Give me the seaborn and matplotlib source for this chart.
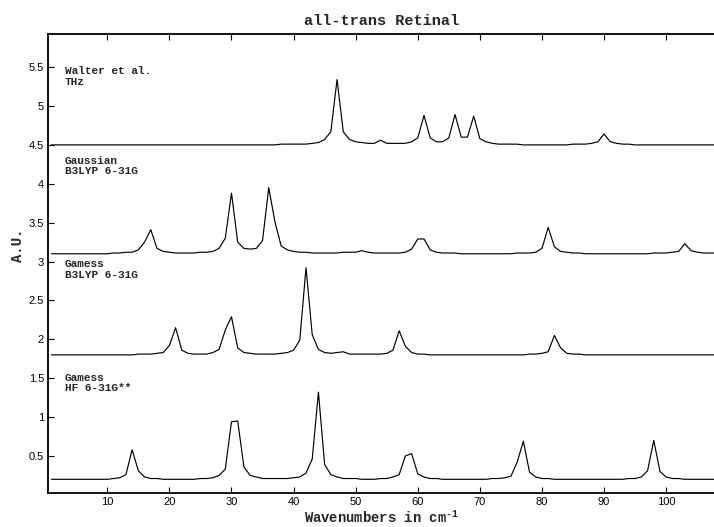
import matplotlib
matplotlib.use("Agg")
import matplotlib.pyplot as plt
import pandas as pd
import seaborn as sns

# ---------------- data ----------------
wavenumbers = list(range(1, 109))

walter_thz = [
    4.50, 4.50, 4.50, 4.50, 4.50, 4.50, 4.50, 4.50, 4.50, 4.50,
    4.50, 4.50, 4.50, 4.50, 4.50, 4.50, 4.50, 4.50, 4.50, 4.50,
    4.50, 4.50, 4.50, 4.50, 4.50, 4.50, 4.50, 4.50, 4.50, 4.50,
    4.50, 4.50, 4.50, 4.50, 4.50, 4.50, 4.50, 4.51, 4.51, 4.51,
    4.51, 4.51, 4.52, 4.53, 4.57, 4.67, 5.34, 4.67, 4.57, 4.54,
    4.53, 4.52, 4.52, 4.56, 4.52, 4.52, 4.52, 4.52, 4.54, 4.59,
    4.88, 4.59, 4.54, 4.54, 4.59, 4.89, 4.60, 4.60, 4.87, 4.58,
    4.54, 4.52, 4.51, 4.51, 4.51, 4.51, 4.50, 4.50, 4.50, 4.50,
    4.50, 4.50, 4.50, 4.50, 4.51, 4.51, 4.51, 4.52, 4.54, 4.64,
    4.54, 4.52, 4.51, 4.51, 4.50, 4.50, 4.50, 4.50, 4.50, 4.50,
    4.50, 4.50, 4.50, 4.50, 4.50, 4.50, 4.50, 4.50,
]

gaussian_b3lyp = [
    3.10, 3.10, 3.10, 3.10, 3.10, 3.10, 3.10, 3.10, 3.10, 3.10,
    3.11, 3.11, 3.12, 3.12, 3.15, 3.25, 3.41, 3.17, 3.13, 3.12,
    3.11, 3.11, 3.11, 3.11, 3.12, 3.12, 3.13, 3.17, 3.30, 3.88,
    3.25, 3.17, 3.16, 3.17, 3.27, 3.95, 3.51, 3.20, 3.15, 3.13,
    3.12, 3.12, 3.11, 3.11, 3.11, 3.11, 3.11, 3.12, 3.12, 3.12,
    3.14, 3.12, 3.11, 3.11, 3.11, 3.11, 3.11, 3.12, 3.16, 3.29,
    3.29, 3.15, 3.12, 3.11, 3.11, 3.11, 3.10, 3.10, 3.10, 3.10,
    3.10, 3.10, 3.10, 3.10, 3.10, 3.11, 3.11, 3.11, 3.12, 3.17,
    3.44, 3.19, 3.13, 3.12, 3.11, 3.11, 3.10, 3.10, 3.10, 3.10,
    3.10, 3.10, 3.10, 3.10, 3.10, 3.10, 3.10, 3.11, 3.11, 3.11,
    3.12, 3.13, 3.23, 3.14, 3.12, 3.11, 3.11, 3.11,
]

gamess_b3lyp = [
    1.80, 1.80, 1.80, 1.80, 1.80, 1.80, 1.80, 1.80, 1.80, 1.80,
    1.80, 1.80, 1.80, 1.80, 1.81, 1.81, 1.81, 1.82, 1.83, 1.92,
    2.15, 1.86, 1.82, 1.81, 1.81, 1.81, 1.83, 1.87, 2.12, 2.29,
    1.89, 1.83, 1.82, 1.81, 1.81, 1.81, 1.81, 1.82, 1.83, 1.86,
    1.99, 2.92, 2.06, 1.87, 1.83, 1.82, 1.83, 1.84, 1.81, 1.81,
    1.81, 1.81, 1.81, 1.81, 1.82, 1.86, 2.11, 1.91, 1.83, 1.81,
    1.81, 1.80, 1.80, 1.80, 1.80, 1.80, 1.80, 1.80, 1.80, 1.80,
    1.80, 1.80, 1.80, 1.80, 1.80, 1.80, 1.80, 1.81, 1.81, 1.82,
    1.84, 2.05, 1.89, 1.82, 1.81, 1.81, 1.80, 1.80, 1.80, 1.80,
    1.80, 1.80, 1.80, 1.80, 1.80, 1.80, 1.80, 1.80, 1.80, 1.80,
    1.80, 1.80, 1.80, 1.80, 1.80, 1.80, 1.80, 1.80,
]

gamess_hf = [
    0.20, 0.20, 0.20, 0.20, 0.20, 0.20, 0.20, 0.20, 0.20, 0.20,
    0.21, 0.22, 0.26, 0.58, 0.31, 0.23, 0.21, 0.21, 0.20, 0.20,
    0.20, 0.20, 0.20, 0.20, 0.21, 0.21, 0.22, 0.25, 0.33, 0.94,
    0.95, 0.36, 0.25, 0.23, 0.21, 0.21, 0.21, 0.21, 0.21, 0.22,
    0.23, 0.28, 0.46, 1.32, 0.39, 0.26, 0.23, 0.21, 0.21, 0.21,
    0.20, 0.20, 0.20, 0.21, 0.21, 0.23, 0.26, 0.50, 0.53, 0.27,
    0.23, 0.21, 0.21, 0.20, 0.20, 0.20, 0.20, 0.20, 0.20, 0.20,
    0.20, 0.21, 0.21, 0.22, 0.24, 0.42, 0.69, 0.29, 0.23, 0.21,
    0.21, 0.20, 0.20, 0.20, 0.20, 0.20, 0.20, 0.20, 0.20, 0.20,
    0.20, 0.20, 0.20, 0.21, 0.21, 0.23, 0.31, 0.70, 0.30, 0.23,
    0.21, 0.21, 0.20, 0.20, 0.20, 0.20, 0.20, 0.20,
]

series_labels = ["Walter et al.\nTHz", "Gaussian\nB3LYP 6-31G",
                 "Gamess\nB3LYP 6-31G", "Gamess\nHF 6-31G**"]
series_label_y = [5.38, 4.23, 2.90, 1.44]

x_ticks = [10, 20, 30, 40, 50, 60, 70, 80, 90, 100]
y_ticks = [0.5, 1, 1.5, 2, 2.5, 3, 3.5, 4, 4.5, 5, 5.5]
y_tick_labels = ["0.5", "1", "1.5", "2", "2.5", "3", "3.5", "4", "4.5", "5", "5.5"]

title_text = "all-trans Retinal"
x_label = r"Wavenumbers in cm$^{\text{-1}}$"
y_label = "A.U."

# ---------------- style ----------------
sns.set_style("ticks")
plt.rcParams['font.family'] = ['Liberation Sans', 'DejaVu Sans']
plt.rcParams['mathtext.fontset'] = 'custom'
plt.rcParams['mathtext.rm'] = 'Liberation Mono:bold'
plt.rcParams['mathtext.it'] = 'Liberation Mono:bold'
plt.rcParams['mathtext.bf'] = 'Liberation Mono:bold'
mono = ['Liberation Mono', 'DejaVu Sans Mono']

fig = plt.figure(figsize=(7.14, 5.27), dpi=100)
ax = fig.add_axes([48.3 / 714, 33.7 / 527, 1 - 48.3 / 714, 459.6 / 527])

frames = []
for name, vals in [("walter", walter_thz), ("gaussian", gaussian_b3lyp),
                   ("gamess_b3lyp", gamess_b3lyp), ("gamess_hf", gamess_hf)]:
    frames.append(pd.DataFrame({"x": wavenumbers, "y": vals, "series": name}))
df = pd.concat(frames, ignore_index=True)

sns.lineplot(data=df, x="x", y="y", units="series", estimator=None,
             color="black", linewidth=0.85, ax=ax, legend=False)

for lab, ly in zip(series_labels, series_label_y):
    ax.text(3.2, ly, lab, family=mono, fontweight='bold', fontsize=8,
            ha='left', va='center', linespacing=1.05)

ax.set_xlim(0.5, 107.7)
ax.set_ylim(0.02, 5.93)
ax.set_xticks(x_ticks)
ax.set_yticks(y_ticks)
ax.set_yticklabels(y_tick_labels)

ax.tick_params(axis='both', direction='in', length=4.5, width=0.8,
               labelsize=8, pad=3, colors='black')
ax.tick_params(axis='x', top=True, bottom=True)
ax.tick_params(axis='y', left=True, right=False)

for side in ['left', 'bottom', 'top']:
    ax.spines[side].set_linewidth(1.3)
    ax.spines[side].set_color('black')
ax.spines['right'].set_visible(False)

ax.set_title(title_text, family=mono, fontweight='bold', fontsize=11, pad=6)
ax.set_xlabel(x_label, family=mono, fontweight='bold', fontsize=10)
ax.set_ylabel(y_label, family=mono, fontweight='bold', fontsize=10)
ax.xaxis.set_label_coords(0.5, -0.036)
ax.yaxis.set_label_coords(-0.035, 0.54)

fig.savefig("out.png", dpi=100)
